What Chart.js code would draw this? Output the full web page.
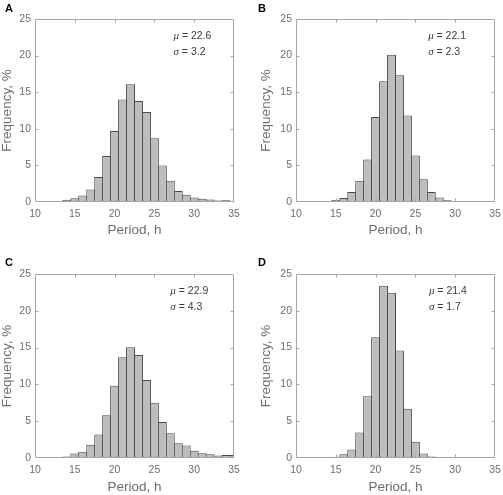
<!doctype html>
<html lang="en">

<head>
    <meta charset="utf-8">
    <title>Period histograms</title>
    <script src="https://cdn.jsdelivr.net/npm/chart.js"></script>
    <style>
        html, body { margin: 0; padding: 0; background: #fff; }
        #wrap { position: relative; width: 503px; height: 495px; overflow: hidden; }
        .layer { position: absolute; left: 0; top: 0; width: 503px; height: 495px; }
        .tag { position: absolute; font: bold 11px "Liberation Sans", Arial, sans-serif; color: #000; line-height: 11px; }
    </style>
</head>

<body>
    <div id="wrap">
        <div class="layer"><canvas id="panelA"></canvas></div>
        <div class="layer"><canvas id="panelB"></canvas></div>
        <div class="layer"><canvas id="panelC"></canvas></div>
        <div class="layer"><canvas id="panelD"></canvas></div>
        <div class="tag" style="left:5px;top:3px">A</div>
        <div class="tag" style="left:258px;top:3px">B</div>
        <div class="tag" style="left:5px;top:257px">C</div>
        <div class="tag" style="left:258px;top:257px">D</div>
    </div>
    <script>
        // bin centres (h) and frequency (%) per panel
        const binsA = [11, 12, 13, 14, 15, 16, 17, 18, 19, 20, 21, 22, 23, 24, 25, 26, 27, 28, 29, 30, 31, 32, 33, 34, 35];
        const freqA = [0.02, 0.05, 0.1, 0.3, 0.5, 0.9, 1.7, 3.4, 6.3, 9.7, 14.0, 16.1, 13.8, 12.3, 8.7, 5.0, 2.9, 1.5, 1.0, 0.6, 0.45, 0.35, 0.2, 0.25, 0.15];

        const binsB = [13, 14, 15, 16, 17, 18, 19, 20, 21, 22, 23, 24, 25, 26, 27, 28, 29, 30, 31, 32, 33, 34];
        const freqB = [0.02, 0.15, 0.3, 0.55, 1.35, 2.9, 5.8, 11.6, 16.5, 20.1, 17.3, 11.8, 6.35, 3.1, 1.35, 0.6, 0.25, 0.15, 0.1, 0.05, 0.03, 0.02];

        const binsC = [11, 12, 13, 14, 15, 16, 17, 18, 19, 20, 21, 22, 23, 24, 25, 26, 27, 28, 29, 30, 31, 32, 33, 34, 35];
        const freqC = [0.02, 0.05, 0.15, 0.2, 0.6, 0.85, 1.8, 3.2, 5.8, 9.8, 13.7, 15.05, 14.0, 10.6, 7.5, 4.9, 3.35, 2.0, 1.7, 1.0, 0.65, 0.5, 0.35, 0.4, 0.4];

        const binsD = [13, 14, 15, 16, 17, 18, 19, 20, 21, 22, 23, 24, 25, 26, 27, 28, 29, 30];
        const freqD = [0.02, 0.05, 0.18, 0.5, 1.15, 3.45, 8.4, 16.4, 23.4, 22.45, 14.6, 6.7, 2.2, 0.6, 0.2, 0.08, 0.03, 0.02];

        const muLabels = ['22.6', '22.1', '22.9', '21.4'];
        const sigmaLabels = ['3.2', '2.3', '4.3', '1.7'];

        const xTicks = [10, 15, 20, 25, 30, 35];
        const yTicks = [0, 5, 10, 15, 20, 25];

        const SANS = '"Liberation Sans", Arial, sans-serif';
        const SERIF = '"Liberation Serif", "Times New Roman", serif';
        const AXIS_COLOR = '#a6a6a6';
        const LABEL_COLOR = '#6e6e6e';

        // box round the axes with inward ticks on all four sides, plus the mu/sigma note
        const boxPlugin = {
            id: 'matBox',
            afterDatasetsDraw(chart, args, opts) {
                const { ctx, chartArea: a, scales: { x, y } } = chart;
                const l = Math.round(a.left) + 0.5, r = Math.round(a.right) - 0.5;
                const t = Math.round(a.top) + 0.5, b = Math.round(a.bottom) - 0.5;
                ctx.save();
                ctx.strokeStyle = AXIS_COLOR;
                ctx.lineWidth = 1;
                ctx.beginPath();
                ctx.rect(l, t, r - l, b - t);
                x.ticks.forEach(tk => {
                    const px = Math.round(x.getPixelForValue(tk.value)) + 0.5;
                    if (px <= l + 1 || px >= r - 1) return;
                    ctx.moveTo(px, b); ctx.lineTo(px, b - 3);
                    ctx.moveTo(px, t); ctx.lineTo(px, t + 3);
                });
                y.ticks.forEach(tk => {
                    const py = Math.round(y.getPixelForValue(tk.value)) + 0.5;
                    if (py <= t + 1 || py >= b - 1) return;
                    ctx.moveTo(l, py); ctx.lineTo(l + 3, py);
                    ctx.moveTo(r, py); ctx.lineTo(r - 3, py);
                });
                ctx.stroke();

                // annotation
                const ax = x.getPixelForValue(opts.noteX);
                const lines = [['\u03bc', opts.mu], ['\u03c3', opts.sigma]];
                ctx.fillStyle = '#3a3a3a';
                ctx.textBaseline = 'middle';
                lines.forEach((ln, i) => {
                    const ly = a.top + 17 + i * 16;
                    ctx.font = 'italic 11px ' + SERIF;
                    ctx.fillText(ln[0], ax, ly);
                    const w = ctx.measureText(ln[0]).width;
                    ctx.font = '10.5px ' + SANS;
                    ctx.fillText(' = ' + ln[1], ax + w, ly);
                });
                ctx.restore();
            }
        };

        function makePanel(id, bins, freqs, p) {
            const points = bins.map((b, i) => ({ x: b, y: freqs[i] }));
            new Chart(document.getElementById(id), {
                type: 'bar',
                data: {
                    datasets: [{
                        data: points,
                        backgroundColor: '#bdbdbd',
                        borderColor: '#4a4a4a',
                        borderWidth: 1,
                        borderSkipped: false,
                        categoryPercentage: 1,
                        barPercentage: 1.125,
                        grouped: false
                    }]
                },
                options: {
                    responsive: true,
                    maintainAspectRatio: false,
                    animation: false,
                    devicePixelRatio: 1,
                    layout: {
                        padding: { left: p.padL, top: p.top, right: 503 - p.right, bottom: 495 - p.axisBottom }
                    },
                    plugins: {
                        legend: { display: false },
                        tooltip: { enabled: false },
                        matBox: { mu: p.mu, sigma: p.sigma, noteX: p.noteX }
                    },
                    scales: {
                        x: {
                            type: 'linear',
                            min: 10,
                            max: 35,
                            offset: false,
                            grid: { display: false, drawTicks: false },
                            border: { display: false },
                            afterBuildTicks: s => { s.ticks = xTicks.map(v => ({ value: v })); },
                            afterFit: s => {
                                s.height = p.axisBottom - p.bottom;
                                s.paddingLeft = 0;
                                s.paddingRight = 0;
                            },
                            ticks: {
                                padding: 6,
                                color: LABEL_COLOR,
                                font: { family: SANS, size: 10.5 },
                                maxRotation: 0
                            },
                            title: {
                                display: true,
                                text: 'Period, h',
                                color: LABEL_COLOR,
                                padding: 0,
                                font: { family: SANS, size: 13.5, lineHeight: 1 }
                            }
                        },
                        y: {
                            min: 0,
                            max: 25,
                            grid: { display: false, drawTicks: false },
                            border: { display: false },
                            afterBuildTicks: s => { s.ticks = yTicks.map(v => ({ value: v })); },
                            afterFit: s => {
                                s.width = p.left - p.padL;
                                s.paddingTop = 0;
                                s.paddingBottom = 0;
                            },
                            ticks: {
                                padding: 4,
                                color: LABEL_COLOR,
                                font: { family: SANS, size: 10.5 }
                            },
                            title: {
                                display: true,
                                text: 'Frequency, %',
                                color: LABEL_COLOR,
                                padding: 0,
                                font: { family: SANS, size: 13.5, lineHeight: 1 }
                            }
                        }
                    }
                },
                plugins: [boxPlugin]
            });
        }

        makePanel('panelA', binsA, freqA, { padL: 1, left: 35, top: 19, right: 234, bottom: 202, axisBottom: 237, mu: muLabels[0], sigma: sigmaLabels[0], noteX: 27.4 });
        makePanel('panelB', binsB, freqB, { padL: 260, left: 296, top: 19, right: 495, bottom: 202, axisBottom: 237, mu: muLabels[1], sigma: sigmaLabels[1], noteX: 26.6 });
        makePanel('panelC', binsC, freqC, { padL: 1, left: 35, top: 274, right: 234, bottom: 458, axisBottom: 494, mu: muLabels[2], sigma: sigmaLabels[2], noteX: 27.0 });
        makePanel('panelD', binsD, freqD, { padL: 260, left: 296, top: 274, right: 495, bottom: 458, axisBottom: 494, mu: muLabels[3], sigma: sigmaLabels[3], noteX: 26.7 });
    </script>
</body>

</html>
